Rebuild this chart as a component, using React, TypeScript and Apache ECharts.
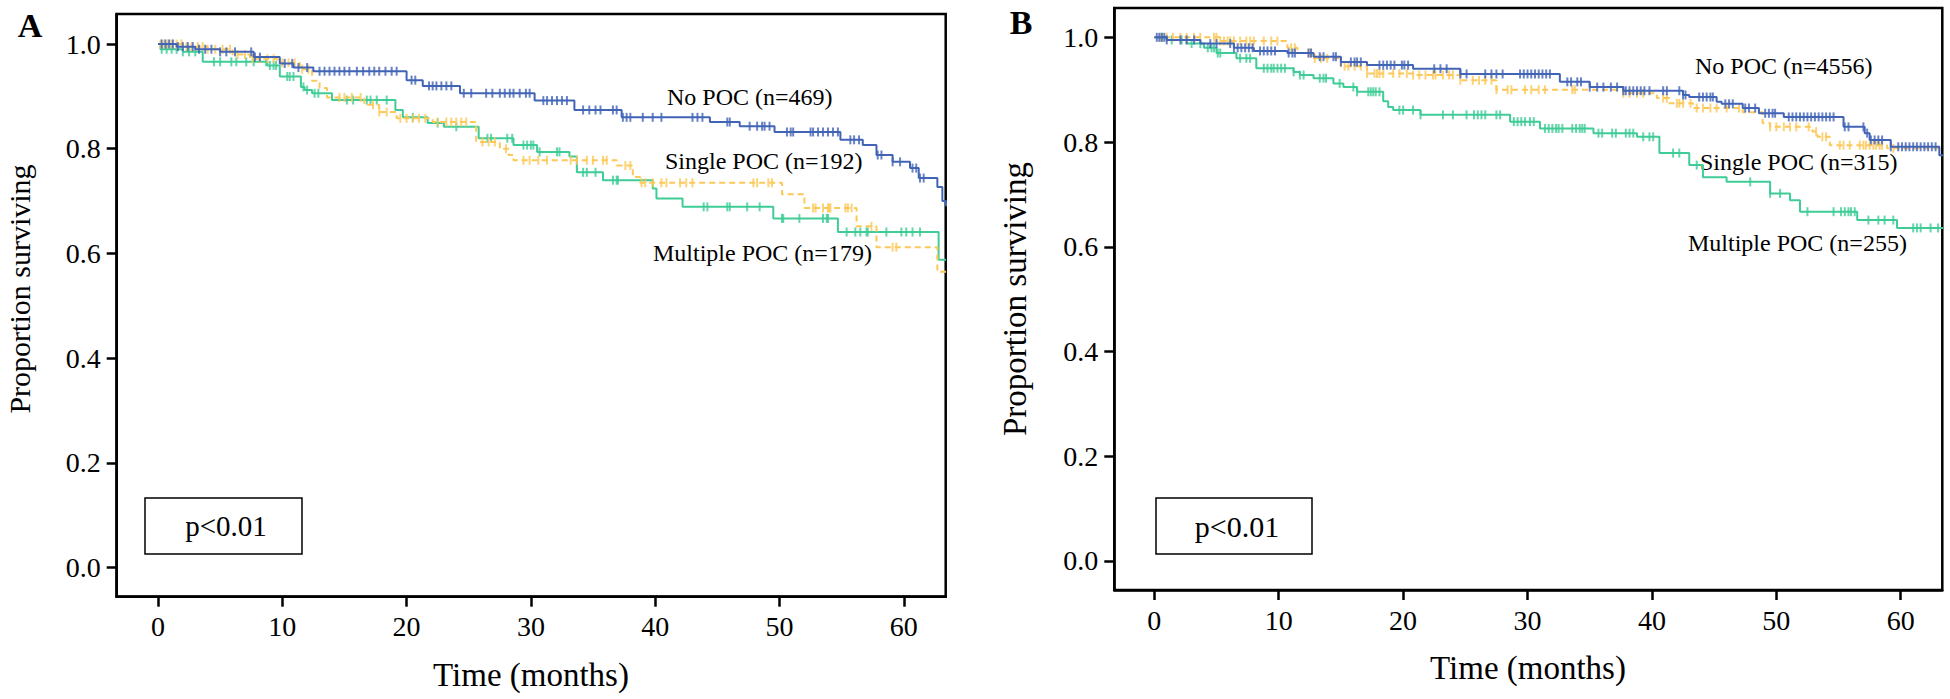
import React, { useEffect, useRef } from "react";
import * as echarts from "echarts";

const FONT = "'Liberation Serif', 'Times New Roman', serif";

const X_TICKS = [0, 10, 20, 30, 40, 50, 60];
const Y_TICKS = [0, 0.2, 0.4, 0.6, 0.8, 1.0];

const SERIES_NAMES = ["No POC", "Single POC", "Multiple POC"];
const COLORS = ["#4264b6", "#fcc858", "#3fcc96"];

const LABELS_A = ["No POC (n=469)", "Single POC (n=192)", "Multiple POC (n=179)"];
const LABELS_B = ["No POC (n=4556)", "Single POC (n=315)", "Multiple POC (n=255)"];

// Panel A step curves [time (months), proportion surviving]
const A_NO: number[][] = [[0,1.0],[1.5,0.995],[3,0.99],[5,0.985],[7.7,0.975],[9.8,0.963],[10.9,0.955],[12.5,0.948],[20,0.931],[21.3,0.92],[24.3,0.906],[30.3,0.892],[33.5,0.874],[37.3,0.86],[44.4,0.851],[46.8,0.843],[49.6,0.832],[54.9,0.817],[56.7,0.807],[57.8,0.788],[59.1,0.775],[60.5,0.763],[61.2,0.744],[62.7,0.727],[63.1,0.70],[63.4,0.69]];
const A_SINGLE: number[][] = [[0,1.0],[2,0.995],[4,0.99],[6,0.98],[7.4,0.972],[9.6,0.964],[11.4,0.952],[12.4,0.93],[13,0.916],[13.6,0.898],[16.6,0.884],[17.8,0.87],[19.2,0.858],[22.1,0.851],[25.6,0.813],[27.5,0.80],[28.2,0.788],[28.6,0.778],[36.9,0.768],[38.2,0.746],[38.8,0.735],[50.2,0.713],[52,0.687],[56.2,0.652],[57.8,0.612],[62.7,0.565],[63.4,0.565]];
const A_MULTI: number[][] = [[0,1.0],[0.2,0.99],[2,0.985],[3.6,0.966],[8.8,0.959],[9.8,0.938],[11.5,0.918],[11.8,0.912],[12.4,0.906],[14,0.893],[19.1,0.874],[19.7,0.86],[21.7,0.849],[23,0.842],[25.8,0.82],[28.6,0.807],[30.5,0.794],[33.1,0.785],[33.7,0.755],[35.8,0.74],[39.8,0.724],[40.1,0.705],[42.2,0.689],[49.5,0.667],[54.7,0.641],[62.8,0.588],[63.4,0.588]];

// Panel A censoring times
const A_NO_CENS = [0.3,0.6,0.9,1.2,1.6,2.0,2.4,2.8,3.3,3.8,4.3,5.0,5.5,6.2,7.5,7.8,8.2,10.2,10.8,11.3,12.0,13.0,13.4,13.8,14.2,14.6,15.0,15.4,16.0,16.5,17.0,17.4,17.8,18.3,18.8,19.2,20.4,20.7,21.8,22.1,22.4,22.8,23.2,23.6,24.6,25.2,26.4,26.9,27.5,27.9,28.3,28.6,29.1,29.6,29.9,31.0,31.3,31.7,32.1,32.5,32.9,34.2,34.7,35.2,35.6,36.6,36.9,37.4,37.7,38.0,39.0,39.8,40.5,43.0,43.4,43.8,45.8,46.0,47.6,48.2,48.6,48.8,49.2,50.6,50.9,51.1,52.5,52.7,53.1,53.5,53.9,54.3,54.7,55.7,56.0,56.4,57.9,58.2,59.1,59.7,60.7,61.0,61.3,61.6];
const A_SINGLE_CENS = [0.2,0.5,0.8,1.1,1.5,1.9,2.3,2.7,3.2,3.6,4.0,4.6,5.2,5.8,6.4,7.0,7.6,8.2,8.8,9.3,10.0,10.5,11.0,11.6,12.1,14.6,15.0,15.6,16.3,17.3,17.8,18.4,19.5,20.0,20.5,21.0,21.5,22.5,23.2,23.6,24.0,24.4,24.8,26.1,26.6,27.1,28.0,29.4,29.9,30.6,31.3,33.2,33.7,34.5,35.0,35.8,36.1,37.6,38.0,38.9,39.2,39.8,40.5,40.9,42.0,42.5,43.0,47.9,48.2,49.1,49.4,52.7,52.9,53.5,53.9,54.0,54.1,55.3,55.5,55.8,57.4,59.1,59.4];
const A_MULTI_CENS = [0.3,0.7,1.1,1.5,2.0,2.5,3.0,4.5,5.0,5.9,6.3,7.1,7.7,8.7,9.0,9.3,9.5,10.4,10.6,10.9,11.7,12.0,12.6,12.9,15.2,15.7,16.8,17.1,17.6,18.4,20.5,22.5,24.0,26.5,26.8,28.1,28.5,29.4,29.7,30.0,30.2,30.7,32.1,32.3,34.2,34.5,35.2,36.6,36.9,37.0,43.9,44.2,45.8,46.0,47.4,48.4,50.2,50.3,51.6,53.5,53.8,53.9,55.4,56.1,56.5,57.0,57.1,58.6,59.8,60.2,60.7,61.3];

// Panel B step curves
const B_NO: number[][] = [[0,1.0],[1,0.995],[3.7,0.988],[6.4,0.98],[8,0.974],[10.7,0.97],[12.8,0.963],[15,0.953],[17.1,0.947],[20.8,0.94],[24.6,0.93],[32.6,0.915],[35,0.905],[37.7,0.898],[42.5,0.89],[43,0.886],[45.2,0.877],[45.6,0.873],[47.3,0.865],[48.6,0.855],[50.6,0.848],[55.4,0.829],[57.1,0.817],[57.5,0.804],[59.2,0.791],[63.1,0.775],[63.4,0.775]];
const B_SINGLE: number[][] = [[0,1.0],[5.3,0.993],[10.7,0.98],[11.5,0.97],[12.8,0.96],[15,0.945],[17.1,0.931],[20.8,0.928],[24.6,0.918],[27.5,0.9],[37.7,0.893],[40.4,0.884],[41.4,0.874],[43.3,0.865],[47.3,0.857],[48.9,0.836],[49.5,0.829],[52.9,0.82],[53.3,0.81],[54.3,0.794],[58.9,0.788],[63.4,0.788]];
const B_MULTI: number[][] = [[0,1.0],[1,0.995],[2.6,0.988],[4,0.98],[5,0.97],[6.6,0.96],[8.2,0.941],[11.2,0.934],[11.7,0.928],[12.8,0.922],[14.4,0.912],[15.2,0.905],[16.3,0.896],[18.4,0.878],[18.8,0.867],[19.2,0.861],[21.4,0.852],[28.6,0.839],[31,0.826],[35.3,0.817],[38.8,0.81],[40.6,0.779],[43,0.756],[44.1,0.733],[46,0.724],[49.5,0.702],[51.1,0.689],[51.9,0.667],[56.5,0.651],[59.7,0.636],[63.4,0.636]];

// Panel B censoring times
const B_NO_CENS = [0.2,0.4,0.6,0.8,1.0,2.1,2.6,3.2,4.5,5.0,6.1,6.4,6.7,7.0,7.3,7.6,7.9,8.5,8.8,9.1,9.4,9.7,10.8,11.1,11.3,12.4,12.6,13.3,13.6,14.4,14.6,15.0,15.8,16.1,16.3,16.6,18.1,18.4,18.7,19.0,19.3,19.9,20.1,20.4,22.5,23.0,23.5,24.6,25.1,26.6,27.1,27.5,28.0,29.4,29.7,30.0,30.3,30.6,30.9,31.2,31.5,31.8,33.2,33.5,34.0,34.3,35.0,35.6,36.1,36.7,37.2,37.7,37.9,38.2,38.5,38.8,39.1,39.4,39.8,40.9,41.2,42.2,42.5,42.7,43.8,44.1,44.4,44.7,44.9,45.9,46.2,46.5,47.5,47.8,48.3,49.1,49.4,49.7,49.9,51.0,51.3,51.6,51.9,52.2,52.5,52.8,53.1,53.4,53.7,54.0,54.3,54.6,55.5,55.8,57.0,57.3,57.6,57.9,58.2,58.5,59.2,59.8,60.1,60.4,60.7,61.0,61.3,61.6,61.9,62.2,62.5,62.8];
const B_SINGLE_CENS = [0.5,1.0,1.5,2.1,2.6,3.2,3.7,4.8,5.0,5.3,5.6,5.9,6.1,6.4,6.9,7.4,7.7,8.0,8.8,9.4,9.9,11.0,11.3,12.4,12.6,12.9,13.4,13.9,15.3,15.6,16.1,16.6,17.1,17.7,17.9,18.1,18.4,19.2,19.7,20.3,20.8,21.3,21.8,22.4,22.6,23.2,23.7,24.0,24.6,25.6,26.1,26.6,27.1,27.5,28.4,28.7,29.8,30.3,30.9,31.4,33.6,33.8,37.7,38.2,38.8,39.3,40.9,41.2,42.0,42.2,42.5,43.1,43.6,44.1,44.7,45.2,46.0,47.0,49.5,50.0,50.6,51.1,51.6,52.6,53.2,53.7,54.0,55.1,55.4,55.9,56.7,57.0,57.2,57.5,57.8,58.0,58.3,58.5,59.4];
const B_MULTI_CENS = [0.6,1.4,2.2,3.0,3.7,4.3,4.6,4.8,5.1,5.3,6.9,7.4,7.7,8.8,9.1,9.4,9.6,9.9,10.2,10.5,11.2,11.7,12.0,13.3,13.6,13.8,14.9,16.0,16.3,17.2,17.4,17.6,17.8,18.1,19.7,20.0,20.8,21.4,23.2,24.0,25.1,25.7,26.0,26.3,26.6,27.5,27.8,28.9,29.2,29.5,29.8,30.2,30.5,31.4,31.7,32.0,32.3,32.5,32.8,33.6,33.9,34.2,34.4,34.6,35.7,36.0,36.8,37.1,37.9,38.2,38.5,39.3,39.8,40.1,41.7,42.2,43.6,47.9,49.5,50.3,52.5,54.6,55.2,55.5,55.8,56.0,56.3,57.4,58.2,58.7,59.4,61.0,61.3,61.6,62.4,63.0];

function stepValue(steps: number[][], t: number): number {
  let v = steps[0][1];
  for (const [tt, s] of steps) {
    if (tt <= t) v = s;
    else break;
  }
  return v;
}

function panelSeries(idx: number, curves: number[][][], cens: number[][]) {
  const out: any[] = [];
  const order = [2, 1, 0];
  for (const i of order) {
    out.push({
      type: "line",
      name: SERIES_NAMES[i],
      xAxisIndex: idx,
      yAxisIndex: idx,
      step: "end",
      data: curves[i],
      symbol: "none",
      showSymbol: false,
      silent: true,
      z: 3 + (2 - i),
      lineStyle: {
        color: COLORS[i],
        width: 2,
        type: i === 1 ? [6, 4] : "solid",
      },
    });
    out.push({
      type: "scatter",
      name: SERIES_NAMES[i],
      xAxisIndex: idx,
      yAxisIndex: idx,
      data: cens[i].map((t) => [t, stepValue(curves[i], t)]),
      symbol: "rect",
      symbolSize: [2, 9],
      silent: true,
      z: 3 + (2 - i),
      itemStyle: { color: COLORS[i] },
    });
  }
  return out;
}

function xAxisCfg(gridIndex: number, min: number, max: number) {
  return {
    type: "value",
    gridIndex,
    min,
    max,
    axisLine: { show: true, onZero: false, lineStyle: { color: "#000", width: 2.5 } },
    splitLine: { show: false },
    axisTick: { show: true, customValues: X_TICKS, length: 10, lineStyle: { color: "#000", width: 2.5 } },
    axisLabel: {
      customValues: X_TICKS,
      margin: 16,
      fontSize: 28,
      fontFamily: FONT,
      color: "#000",
    },
  };
}

function yAxisCfg(gridIndex: number, min: number, max: number) {
  return {
    type: "value",
    gridIndex,
    min,
    max,
    axisLine: { show: true, onZero: false, lineStyle: { color: "#000", width: 2.5 } },
    splitLine: { show: false },
    axisTick: { show: true, customValues: Y_TICKS, length: 10, lineStyle: { color: "#000", width: 2.5 } },
    axisLabel: {
      customValues: Y_TICKS,
      margin: 16,
      fontSize: 28,
      fontFamily: FONT,
      color: "#000",
      formatter: (v: number) => v.toFixed(1),
    },
  };
}

function txt(x: number, y: number, text: string, fontSize: number, extra: any = {}) {
  return {
    type: "text",
    x,
    y,
    silent: true,
    rotation: extra.rotation || 0,
    style: {
      text,
      fontSize,
      fontFamily: FONT,
      fontWeight: extra.bold ? "bold" : "normal",
      fill: "#000",
      align: extra.align || "left",
      verticalAlign: "middle",
    },
  };
}

export default function App() {
  const ref = useRef<HTMLDivElement>(null);
  useEffect(() => {
    if (!ref.current) return;
    const chart = echarts.init(ref.current, undefined, { renderer: "svg" });
    const option: any = {
      animation: false,
      backgroundColor: "#fff",
      grid: [
        { left: 116.7, top: 14, width: 829, height: 582.7, show: true, borderColor: "#000", borderWidth: 2.5, backgroundColor: "transparent" },
        { left: 1114.3, top: 8, width: 828, height: 582, show: true, borderColor: "#000", borderWidth: 2.5, backgroundColor: "transparent" },
      ],
      xAxis: [xAxisCfg(0, -3.32, 63.37), xAxisCfg(1, -3.215, 63.34)],
      yAxis: [yAxisCfg(0, -0.0554, 1.0573), yAxisCfg(1, -0.0554, 1.056)],
      series: [
        ...panelSeries(0, [A_NO, A_SINGLE, A_MULTI], [A_NO_CENS, A_SINGLE_CENS, A_MULTI_CENS]),
        ...panelSeries(1, [B_NO, B_SINGLE, B_MULTI], [B_NO_CENS, B_SINGLE_CENS, B_MULTI_CENS]),
      ],
      graphic: [
        txt(30, 25, "A", 34, { bold: true, align: "center" }),
        txt(1021, 22, "B", 34, { bold: true, align: "center" }),
        txt(19, 289, "Proportion surviving", 30, { rotation: Math.PI / 2, align: "center" }),
        txt(1015, 299, "Proportion surviving", 33, { rotation: Math.PI / 2, align: "center" }),
        txt(531, 675, "Time (months)", 33, { align: "center" }),
        txt(1528, 668, "Time (months)", 33, { align: "center" }),
        txt(667, 97, LABELS_A[0], 24),
        txt(665, 161, LABELS_A[1], 24),
        txt(653, 253, LABELS_A[2], 24),
        txt(1695, 66, LABELS_B[0], 24),
        txt(1700, 162, LABELS_B[1], 24),
        txt(1688, 243, LABELS_B[2], 24),
        { type: "rect", silent: true, shape: { x: 145, y: 498, width: 157, height: 56 }, style: { fill: "none", stroke: "#000", lineWidth: 1.5 } },
        { type: "rect", silent: true, shape: { x: 1156, y: 498, width: 156, height: 56 }, style: { fill: "none", stroke: "#000", lineWidth: 1.5 } },
        txt(226, 526, "p<0.01", 29, { align: "center" }),
        txt(1237, 526, "p<0.01", 30, { align: "center" }),
      ],
    };
    chart.setOption(option);
    return () => chart.dispose();
  }, []);
  return (
    <div
      ref={ref}
      style={{ position: "absolute", left: 0, top: 0, width: 1950, height: 699 }}
    />
  );
}
